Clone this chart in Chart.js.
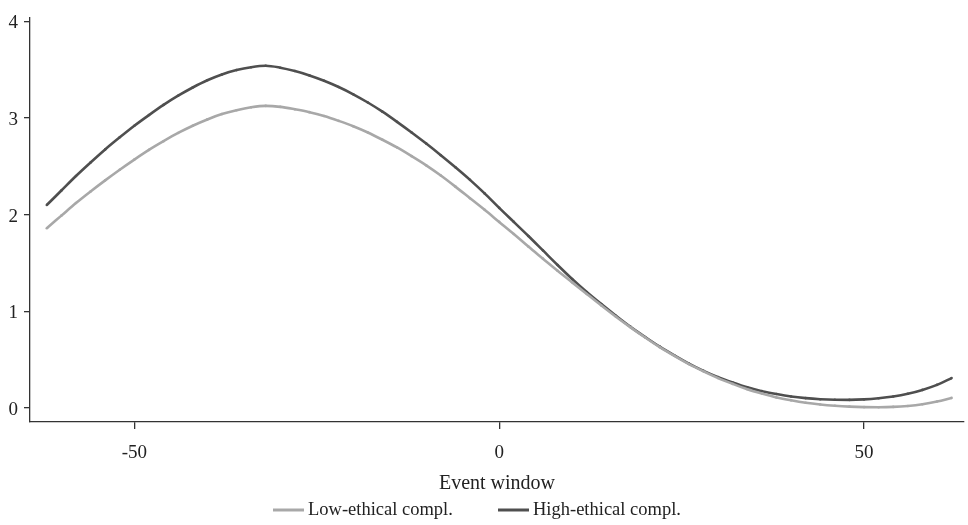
<!DOCTYPE html>
<html>
<head>
<meta charset="utf-8">
<script src="https://cdn.jsdelivr.net/npm/chart.js@4"></script>
<style>
html,body{margin:0;padding:0;background:#fff;}
#wrap{width:968px;height:525px;}
</style>
</head>
<body>
<div id="wrap"><canvas id="c" width="968" height="525"></canvas></div>
<script>
const eventWindow = [-62,-60,-58,-56,-54,-52,-50,-48,-46,-44,-42,-40,-38,-36,-34,-32,-30,-28,-26,-24,-22,-20,-18,-16,-14,-12,-10,-8,-6,-4,-2,0,2,4,6,8,10,12,14,16,18,20,22,24,26,28,30,32,34,36,38,40,42,44,46,48,50,52,54,56,58,60,62];
const lowEthical = [1.86,1.99,2.12,2.24,2.355,2.465,2.57,2.67,2.76,2.845,2.92,2.985,3.04,3.08,3.11,3.125,3.115,3.09,3.06,3.02,2.97,2.915,2.85,2.775,2.695,2.605,2.51,2.405,2.29,2.17,2.05,1.925,1.80,1.67,1.545,1.42,1.30,1.18,1.06,0.945,0.835,0.73,0.63,0.54,0.455,0.38,0.31,0.25,0.195,0.15,0.11,0.08,0.055,0.037,0.024,0.015,0.01,0.009,0.012,0.022,0.04,0.068,0.105];
const highEthical = [2.10,2.25,2.40,2.54,2.675,2.80,2.92,3.03,3.135,3.23,3.315,3.39,3.45,3.495,3.525,3.54,3.52,3.485,3.44,3.385,3.32,3.245,3.16,3.065,2.96,2.85,2.735,2.615,2.49,2.36,2.22,2.07,1.925,1.78,1.63,1.48,1.335,1.20,1.075,0.955,0.84,0.735,0.635,0.545,0.46,0.385,0.32,0.265,0.215,0.175,0.145,0.12,0.103,0.092,0.086,0.085,0.09,0.102,0.12,0.148,0.188,0.24,0.31];
const xTicks = [-50, 0, 50];
const yTicks = [0, 1, 2, 3, 4];
const seriesNames = ['Low-ethical compl.', 'High-ethical compl.'];
const seriesColors = ['#a8a8a8', '#4f4f4f'];

const FONT = '"Liberation Serif", "Times New Roman", serif';

const legendPlugin = {
  id: 'bottomLegend',
  afterDraw(chart) {
    const ctx = chart.ctx;
    ctx.save();
    ctx.font = '18.5px ' + FONT;
    ctx.textBaseline = 'middle';
    ctx.textAlign = 'left';
    const y = 510;
    const items = [{x: 273}, {x: 498}];
    items.forEach((it, i) => {
      ctx.strokeStyle = seriesColors[i];
      ctx.lineWidth = 3;
      ctx.beginPath();
      ctx.moveTo(it.x, y);
      ctx.lineTo(it.x + 31, y);
      ctx.stroke();
      ctx.fillStyle = '#222';
      ctx.fillText(seriesNames[i], it.x + 35, y);
    });
    ctx.restore();
  }
};

new Chart(document.getElementById('c'), {
  type: 'line',
  data: {
    datasets: [
      {
        label: seriesNames[0],
        data: eventWindow.map((x, i) => ({x, y: lowEthical[i]})),
        borderColor: seriesColors[0],
        backgroundColor: seriesColors[0],
        borderWidth: 2.6,
        pointRadius: 1.3,
        pointBorderWidth: 0,
        cubicInterpolationMode: 'monotone',
        fill: false
      },
      {
        label: seriesNames[1],
        data: eventWindow.map((x, i) => ({x, y: highEthical[i]})),
        borderColor: seriesColors[1],
        backgroundColor: seriesColors[1],
        borderWidth: 2.6,
        pointRadius: 1.3,
        pointBorderWidth: 0,
        cubicInterpolationMode: 'monotone',
        fill: false
      }
    ]
  },
  options: {
    responsive: false,
    animation: false,
    layout: { padding: { top: 15, right: 2, left: 0, bottom: 0 } },
    plugins: { legend: { display: false }, tooltip: { enabled: false } },
    scales: {
      x: {
        type: 'linear',
        min: -64.3,
        max: 63.7,
        afterBuildTicks(s) { s.ticks = xTicks.map(v => ({value: v})); },
        afterFit(s) { s.height = 103; },
        border: { display: true, color: '#333', width: 1.3 },
        grid: { display: true, drawOnChartArea: false, drawTicks: true, tickLength: 7, color: '#333', lineWidth: 1.3 },
        ticks: { color: '#222', font: { family: FONT, size: 19 }, padding: 13, maxRotation: 0 },
        title: { display: true, text: 'Event window', color: '#222', font: { family: FONT, size: 20 }, padding: { top: 0, bottom: 29 } }
      },
      y: {
        type: 'linear',
        min: -0.144,
        max: 4.04,
        afterBuildTicks(s) { s.ticks = yTicks.map(v => ({value: v})); },
        afterFit(s) { s.width = 30; },
        border: { display: true, color: '#333', width: 1.3 },
        grid: { display: true, drawOnChartArea: false, drawTicks: true, tickLength: 6, color: '#333', lineWidth: 1.3 },
        ticks: { color: '#222', font: { family: FONT, size: 19 }, padding: 6, labelOffset: 2 }
      }
    }
  },
  plugins: [legendPlugin]
});
</script>
</body>
</html>
